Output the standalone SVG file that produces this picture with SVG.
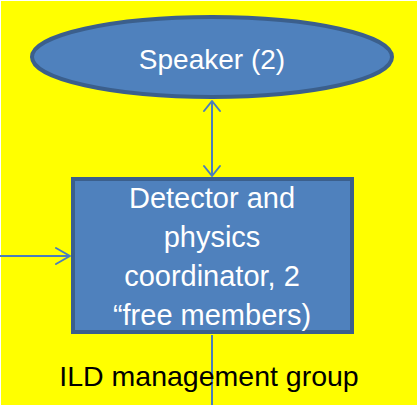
<svg xmlns="http://www.w3.org/2000/svg" width="417" height="405" viewBox="0 0 417 405">
<style>
.node{fill:#4F81BD;stroke:#3B5F8C;stroke-width:4}
.lbl{font-family:"Liberation Sans",Arial,sans-serif;font-size:28px;fill:#FFFFFF;text-anchor:middle}
.big{font-size:29px}
.cap{font-family:"Liberation Sans",Arial,sans-serif;font-size:28.5px;fill:#000000;text-anchor:middle}
.edge{stroke:#4A7EBB;stroke-width:2;fill:none}
.head{stroke:#4A7EBB;stroke-width:2;fill:none;stroke-linecap:round;stroke-linejoin:round}
</style>
<rect x="0" y="0" width="417" height="405" fill="#FFFFFF"/>
<rect x="1" y="1" width="416" height="404" fill="#FFFF00"/>
<g id="connectors">
<line class="edge" x1="212" y1="101" x2="212" y2="176"/>
<polyline class="head" points="204,111 212,101 220,111"/>
<polyline class="head" points="204,166 212,176 220,166"/>
<line class="edge" x1="0" y1="256" x2="70" y2="256"/>
<polyline class="head" points="56,248 70,256 56,264"/>
<line class="edge" x1="212" y1="335" x2="212" y2="405"/>
</g>
<g id="speaker">
<ellipse class="node" cx="212" cy="57" rx="180" ry="40"/>
<text class="lbl" x="212" y="69">Speaker (2)</text>
</g>
<g id="coordinator">
<rect class="node" x="73" y="179" width="279" height="153"/>
<text class="lbl big" x="212" y="208">Detector and</text>
<text class="lbl big" x="212" y="247">physics</text>
<text class="lbl big" x="212" y="286">coordinator, 2</text>
<text class="lbl big" x="212" y="325">“free members)</text>
</g>
<g id="group-label">
<text class="cap" x="209" y="386">ILD management group</text>
</g>
</svg>
